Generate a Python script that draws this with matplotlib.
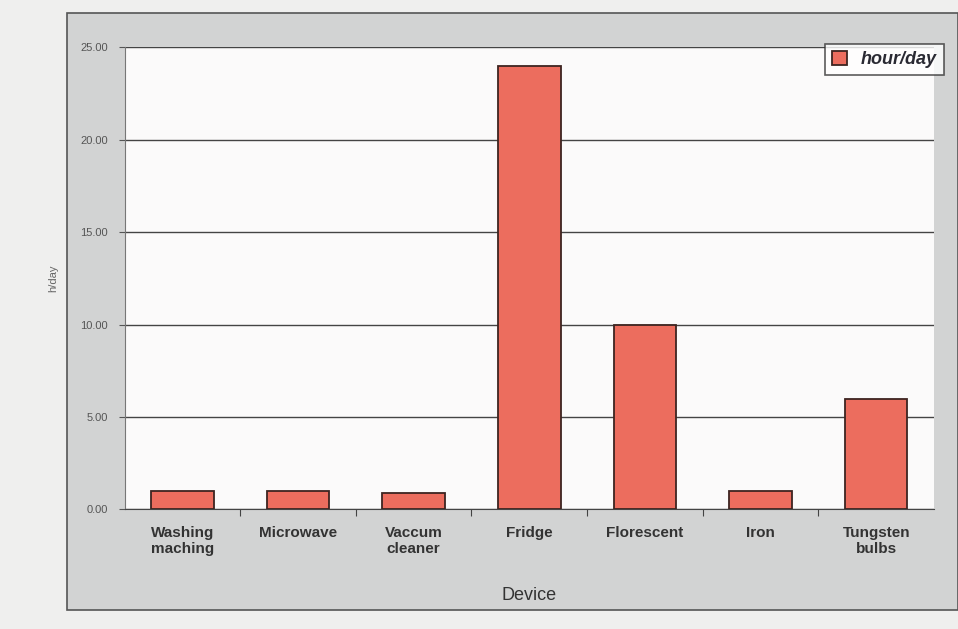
import matplotlib
matplotlib.use("Agg")
import matplotlib.pyplot as plt
from matplotlib.patches import Rectangle

devices = ["Washing\nmaching", "Microwave", "Vaccum\ncleaner", "Fridge",
           "Florescent", "Iron", "Tungsten\nbulbs"]
hours_per_day = [1.0, 1.0, 0.9, 24.0, 10.0, 1.0, 6.0]
y_ticks = [0, 5, 10, 15, 20, 25]
y_tick_labels = ["0.00", "5.00", "10.00", "15.00", "20.00", "25.00"]
series_name = "hour/day"

plt.rcParams["font.family"] = ["Liberation Sans", "DejaVu Sans"]

fig = plt.figure(figsize=(9.58, 6.29), dpi=100, facecolor="#efefee")
# grey chart area behind the plot
fig.patches.append(Rectangle((0.07, 0.03), 0.93, 0.95, transform=fig.transFigure,
                             facecolor="#d2d3d3", edgecolor="#555555", lw=1.2, zorder=-10))

ax = fig.add_axes([0.13, 0.19, 0.845, 0.735])
ax.set_facecolor("#fbfafa")
x = range(len(devices))
bars = ax.bar(x, hours_per_day, width=0.54, color="#ec6d5e", edgecolor="#3d2420",
              linewidth=1.3, zorder=3, label=series_name)

ax.set_ylim(0, 25)
ax.set_xlim(-0.5, len(devices) - 0.5)
ax.set_yticks(y_ticks)
ax.set_yticklabels(y_tick_labels, fontsize=8, color="#555555")
ax.tick_params(axis="y", length=4, color="#555555", pad=8)
ax.yaxis.grid(True, color="#444444", lw=1.0, zorder=1)
ax.set_xticks([i + 0.5 for i in range(len(devices) - 1)], minor=False)
ax.set_xticklabels([])
ax.set_xticks(list(x), minor=True)
ax.set_xticklabels(devices, minor=True, fontsize=11, color="#333333", fontweight="bold")
ax.tick_params(axis="x", which="minor", length=0, pad=12)
ax.tick_params(axis="x", which="major", length=5, color="#444444")
for side in ["top", "right"]:
    ax.spines[side].set_visible(False)
ax.spines["left"].set_color("#777777")
ax.spines["bottom"].set_color("#444444")

ax.set_xlabel("Device", fontsize=13, color="#333333", labelpad=22)
ax.set_ylabel("h/day", fontsize=8, color="#666666", labelpad=16)

leg = fig.legend(handles=[bars], labels=[series_name], loc="upper right",
                 bbox_to_anchor=(0.995, 0.945), frameon=True, fancybox=False,
                 edgecolor="#333333", handlelength=0.8, handleheight=0.8,
                 prop={"size": 13, "weight": "bold", "style": "italic"})
leg.get_frame().set_linewidth(1.2)
for t in leg.get_texts():
    t.set_color("#2a2a33")

fig.savefig("out.png", dpi=100, facecolor=fig.get_facecolor())
